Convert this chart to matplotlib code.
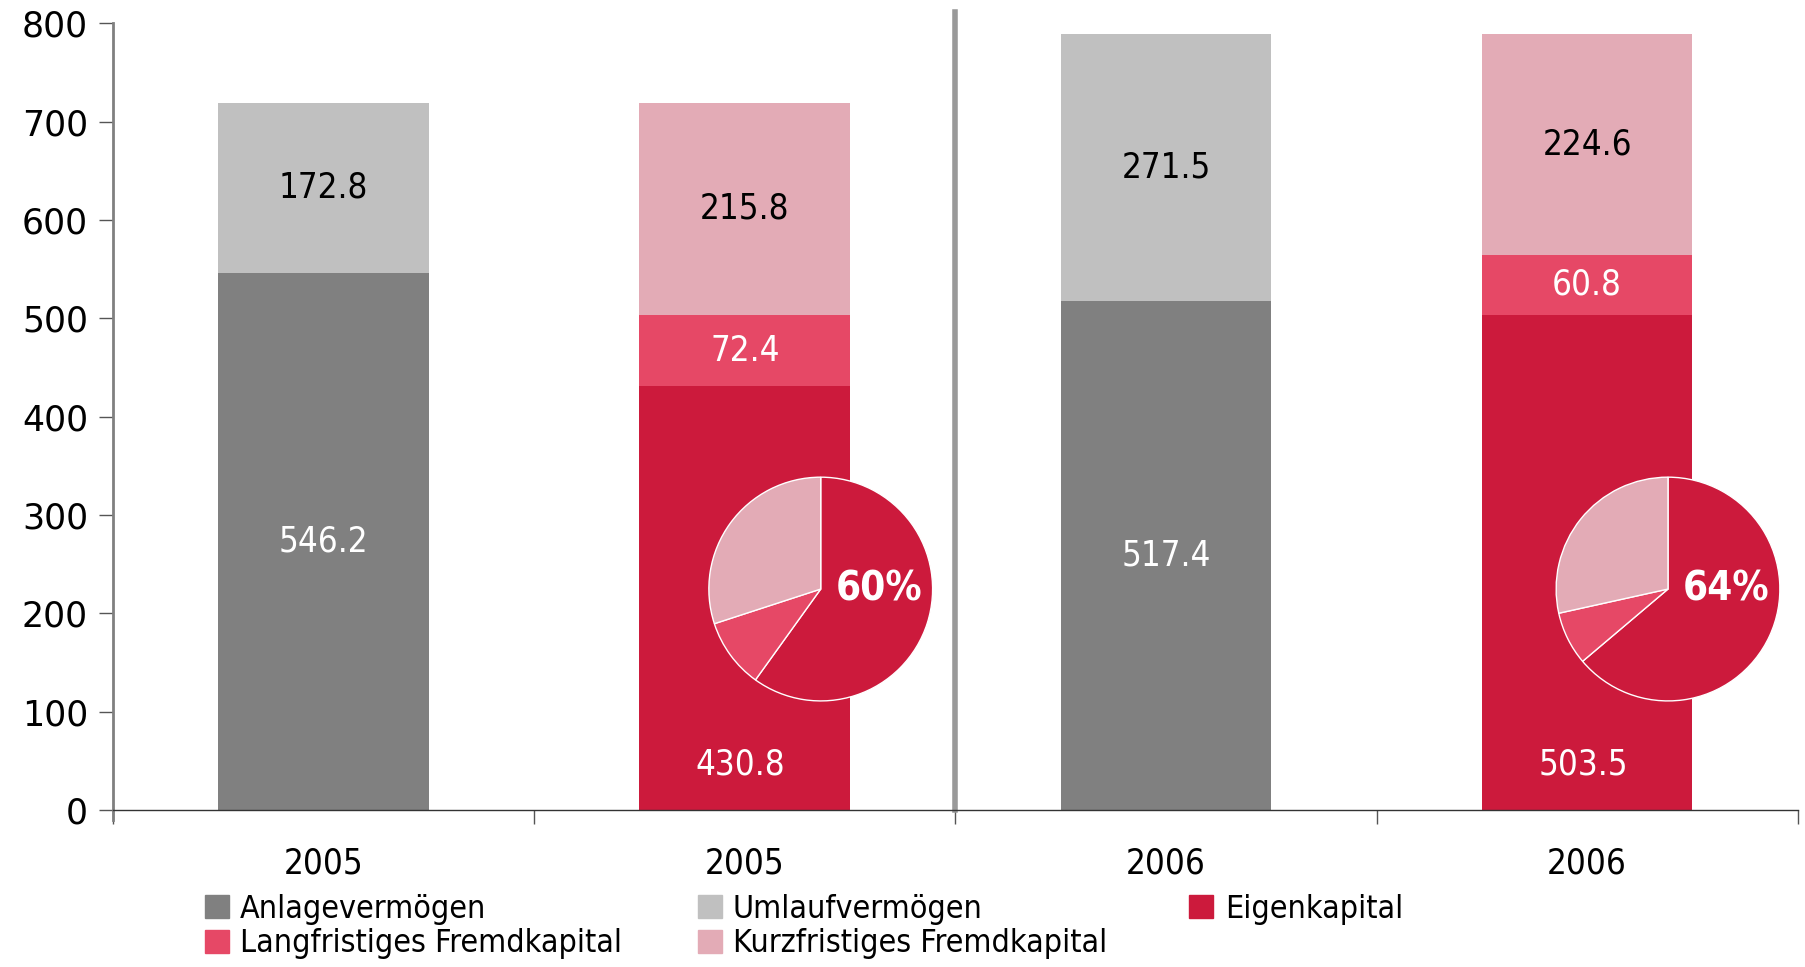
import numpy as np
import matplotlib.pyplot as plt
from matplotlib.patches import Patch

# Daten (Mio. EUR)
jahre = ['2005', '2005', '2006', '2006']
anlage = [546.2, 0, 517.4, 0]
umlauf = [172.8, 0, 271.5, 0]
eigen = [0, 430.8, 0, 503.5]
lang_fk = [0, 72.4, 0, 60.8]
kurz_fk = [0, 215.8, 0, 224.6]
quote_labels = ['60%', '64%']

c_anlage = '#808080'
c_umlauf = '#c0c0c0'
c_eigen = '#cc1a3c'
c_lang = '#e64866'
c_kurz = '#e3abb6'

plt.rcParams['font.family'] = ['DejaVu Sans']
plt.rcParams['font.stretch'] = 'condensed'

fig = plt.figure(figsize=(18.05, 9.67), dpi=100)
ax = fig.add_axes([0.0626, 0.1624, 0.9334, 0.8136])

x = np.arange(len(jahre))
w = 0.5

# Aktiva
ax.bar(x, anlage, w, color=c_anlage)
ax.bar(x, umlauf, w, bottom=anlage, color=c_umlauf)
# Passiva
ax.bar(x, eigen, w, color=c_eigen)
ax.bar(x, lang_fk, w, bottom=eigen, color=c_lang)
bot_k = np.array(eigen) + np.array(lang_fk)
ax.bar(x, kurz_fk, w, bottom=bot_k, color=c_kurz)

fs = 25
for i in x:
    if anlage[i] > 0:
        ax.text(i, anlage[i] / 2, f'{anlage[i]:.1f}', ha='center', va='center', color='white', fontsize=fs)
        ax.text(i, anlage[i] + umlauf[i] / 2, f'{umlauf[i]:.1f}', ha='center', va='center', color='black', fontsize=fs)
    else:
        ax.text(i - 0.01, 46, f'{eigen[i]:.1f}', ha='center', va='center', color='white', fontsize=fs)
        ax.text(i, eigen[i] + lang_fk[i] / 2, f'{lang_fk[i]:.1f}', ha='center', va='center', color='white', fontsize=fs)
        ax.text(i, bot_k[i] + kurz_fk[i] / 2, f'{kurz_fk[i]:.1f}', ha='center', va='center', color='black', fontsize=fs)

ax.set_xlim(-0.5, 3.5)
ax.set_ylim(0, 800)
ax.set_yticks(range(0, 801, 100))
ax.set_xticks(x)
ax.set_xticklabels(jahre)
ax.set_xticks(np.arange(-0.5, 4, 1), minor=True)
ax.tick_params(axis='x', which='major', length=0, labelsize=25, pad=26)
ax.tick_params(axis='x', which='minor', length=10, width=1, color='#555555', direction='out')
ax.tick_params(axis='y', length=10, width=1, color='#555555', labelsize=25, pad=8)
for lab in ax.get_yticklabels():
    lab.set_fontstretch('normal')

for s in ['top', 'right']:
    ax.spines[s].set_visible(False)
ax.spines['left'].set_color('#808080')
ax.spines['left'].set_linewidth(2)
ax.spines['left'].set_bounds(-10, 800)
ax.spines['bottom'].set_color('#333333')
ax.spines['bottom'].set_linewidth(1)

# Trennlinie zwischen den Jahren
ax.plot([1.5, 1.5], [0, 811], color='#999999', lw=4, clip_on=False)

# Eigenkapitalquote als Kreisdiagramm
pie_pos = [[0.3921, 0.274, 0.1252, 0.2337], [0.8615, 0.274, 0.1252, 0.2337]]
for k, i in enumerate([1, 3]):
    pax = fig.add_axes(pie_pos[k])
    pax.pie([eigen[i], lang_fk[i], kurz_fk[i]], colors=[c_eigen, c_lang, c_kurz],
            startangle=90, counterclock=False,
            wedgeprops=dict(edgecolor='white', linewidth=1))
    pax.set_xlim(-1.01, 1.01)
    pax.set_ylim(-1.01, 1.01)
    pax.set_aspect('equal')
    pax.text(0.52, 0.0, quote_labels[k], ha='center', va='center', color='white',
             fontsize=29, fontweight='semibold')

# Legende in drei Spalten
leg_cols = [
    ([Patch(color=c_anlage), Patch(color=c_lang)], ['Anlagevermögen', 'Langfristiges Fremdkapital'], 0.1135),
    ([Patch(color=c_umlauf), Patch(color=c_kurz)], ['Umlaufvermögen', 'Kurzfristiges Fremdkapital'], 0.3865),
    ([Patch(color=c_eigen)], ['Eigenkapital'], 0.659),
]
for h, l, xpos in leg_cols:
    fig.legend(h, l, loc='upper left', bbox_to_anchor=(xpos, 0.076),
               frameon=False, fontsize=23, handlelength=0.75, handleheight=0.75,
               handletextpad=0.35, labelspacing=0.12, borderpad=0, borderaxespad=0)

fig.savefig('out.png', dpi=100)
